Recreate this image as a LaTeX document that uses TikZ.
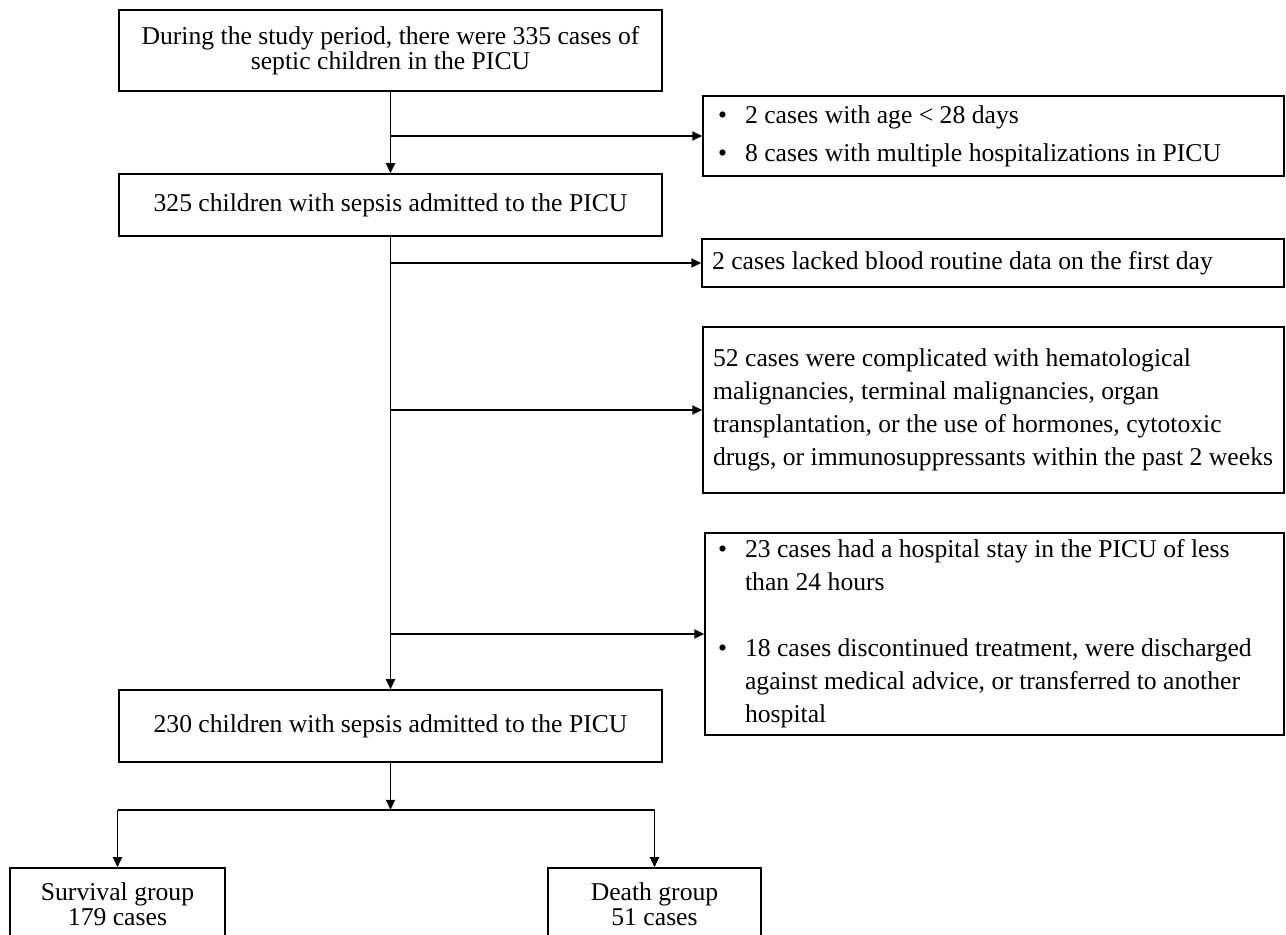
\documentclass[tikz,border=0pt]{standalone}
\usepackage{fontspec}
\setmainfont{Liberation Serif}
\usetikzlibrary{arrows.meta, positioning, calc}

\newcommand{\bul}{\makebox[0.54cm][l]{\textbullet}}
\newcommand{\hang}{\hspace*{0.54cm}}

\begin{document}
\begin{tikzpicture}[
    x=0.02cm, y=-0.02cm,
    box/.style={rectangle, draw, line width=0.9pt, inner sep=0pt, align=center, font=\fontsize{14.6}{14.2}\selectfont},
    side/.style={box, align=left, font=\fontsize{14.6}{18.8}\selectfont, execute at begin node={\spaceskip=0pt\xspaceskip=0pt}},
    arr/.style={line width=1.1pt, -{Triangle[length=0.2cm, width=0.18cm]}},
]
\useasboundingbox (0,0) rectangle (1286,935);

% main column
\node[box, minimum width=10.86cm, minimum height=1.62cm] (top)   at (390.5,50.5) {During the study period, there were 335 cases of\\septic children in the PICU};
\node[box, minimum width=10.86cm, minimum height=1.24cm] (mid)   at (390.5,205)  {325 children with sepsis admitted to the PICU};
\node[box, minimum width=10.86cm, minimum height=1.44cm] (final) at (390.5,726)  {230 children with sepsis admitted to the PICU};

% exclusions
\node[side, inner xsep=0.3cm, text width=11.02cm, minimum height=1.6cm]  (exA) at (993.5,136) {\bul 2 cases with age < 28 days\\[0.1cm]\bul 8 cases with multiple hospitalizations in PICU};
\node[side, inner xsep=0.2cm, text width=11.24cm, minimum height=0.96cm] (exB) at (993,263)   {2 cases lacked blood routine data on the first day};
\node[side, inner xsep=0.2cm, text width=11.22cm, minimum height=3.32cm] (exC) at (993.5,410) {52 cases were complicated with hematological\\malignancies, terminal malignancies, organ\\transplantation, or the use of hormones, cytotoxic\\drugs, or immunosuppressants within the past 2 weeks};
\node[side, inner xsep=0.26cm, text width=11.06cm, minimum height=4.04cm] (exD) at (994.5,634) {\bul 23 cases had a hospital stay in the PICU of less\\\hang than 24 hours\\[18.8pt]\bul 18 cases discontinued treatment, were discharged\\\hang against medical advice, or transferred to another\\\hang hospital};

% outcome groups
\node[box, minimum width=4.3cm, minimum height=1.44cm]  (surv)  at (117.5,904) {Survival group\\179 cases};
\node[box, minimum width=4.26cm, minimum height=1.44cm] (death) at (654.5,904) {Death group\\51 cases};

% trunk and branches
\draw[arr] (top.south) -- (mid.north);
\draw[arr] (mid.south) -- (final.north);
\draw[arr] (top.south |- exA.west) -- (exA.west);
\draw[arr] (mid.south |- exB.west) -- (exB.west);
\draw[arr] (mid.south |- exC.west) -- (exC.west);
\draw[arr] (mid.south |- exD.west) -- (exD.west);

% split
\coordinate[below=0.94cm of final.south] (split);
\draw[arr] (final.south) -- (split);
\draw[line width=1.1pt] (surv.north |- split) -- (death.north |- split);
\draw[arr] (surv.north |- split) -- (surv.north);
\draw[arr] (death.north |- split) -- (death.north);
\end{tikzpicture}
\end{document}
